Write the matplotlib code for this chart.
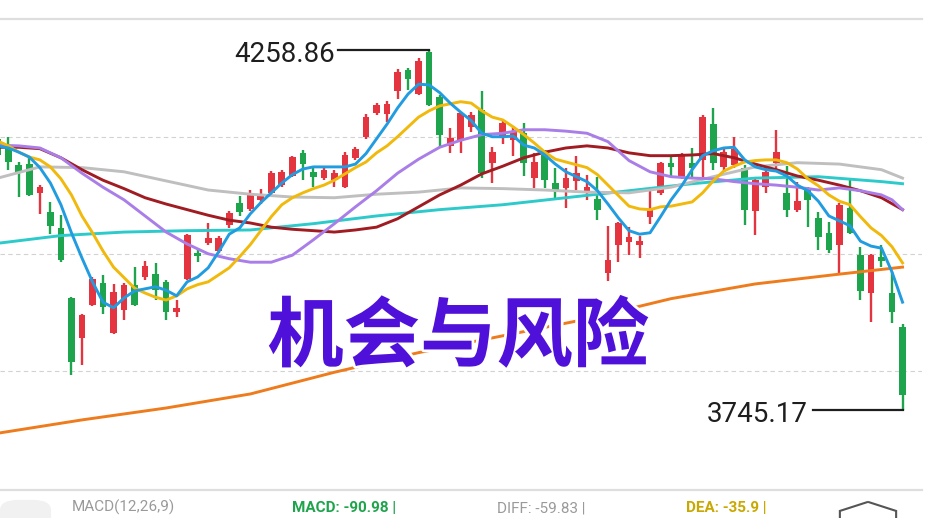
import matplotlib
matplotlib.use('Agg')
import matplotlib.pyplot as plt
import matplotlib.patheffects as pe
from matplotlib.patches import FancyBboxPatch, RegularPolygon
import numpy as np

# daily candles (red = up, green = down)
opens = [4132, 4120, 4095, 4096, 4055, 4028, 4005, 3905, 3848, 3895,
         3926, 3855, 3888, 3924, 3935, 3939, 3928, 3885, 3932, 3969,
         3983, 3972, 4009, 4041, 4032, 4045, 4055, 4066, 4079, 4112,
         4085, 4076, 4073, 4063, 4105, 4135, 4169, 4168, 4200, 4230,
         4196, 4256, 4192, 4122, 4129, 4149, 4173, 4098, 4133, 4130,
         4140, 4076, 4109, 4069, 4062, 4072, 4058, 4046, 3941, 3981,
         3985, 3981, 4021, 4055, 4098, 4078, 4098, 4102, 4153, 4092,
         4095, 4091, 4029, 4063, 4098, 4055, 4031, 4059, 4019, 3998,
         3981, 4033, 3966, 3912, 3964, 3912, 3864]
highs = [4139, 4135, 4099, 4108, 4066, 4042, 4023, 3906, 3882, 3935,
         3938, 3925, 3926, 3949, 3958, 3955, 3931, 3902, 3996, 3976,
         4012, 3994, 4029, 4051, 4059, 4061, 4086, 4088, 4108, 4116,
         4092, 4091, 4088, 4113, 4120, 4168, 4183, 4186, 4232, 4233,
         4247, 4258.86, 4195, 4148, 4170, 4170, 4200, 4120, 4158, 4150,
         4155, 4112, 4116, 4091, 4091, 4108, 4081, 4078, 4008, 4013,
         4006, 3994, 4059, 4099, 4106, 4112, 4119, 4166, 4176, 4120,
         4135, 4095, 4076, 4095, 4145, 4093, 4071, 4063, 4028, 4013,
         4041, 4076, 3978, 3968, 3981, 3942, 3868]
lows = [4102, 4088, 4049, 4050, 4025, 3996, 3956, 3795, 3809, 3893,
        3882, 3854, 3874, 3894, 3931, 3902, 3874, 3878, 3931, 3956,
        3981, 3969, 4005, 4022, 4029, 4039, 4052, 4063, 4078, 4073,
        4063, 4073, 4063, 4062, 4102, 4132, 4166, 4156, 4189, 4202,
        4195, 4179, 4119, 4112, 4112, 4142, 4076, 4069, 4125, 4108,
        4079, 4062, 4062, 4048, 4033, 4059, 4045, 4016, 3929, 3956,
        3966, 3962, 4011, 4052, 4078, 4075, 4078, 4078, 4088, 4085,
        4091, 4009, 3995, 4055, 4088, 4021, 4028, 4006, 3974, 3969,
        3941, 3996, 3902, 3871, 3949, 3869, 3745.17]
closes = [4109, 4099, 4085, 4052, 4063, 4008, 3959, 3814, 3881, 3932,
          3892, 3914, 3924, 3895, 3951, 3916, 3885, 3891, 3995, 3965,
          3991, 3991, 4026, 4028, 4055, 4053, 4083, 4085, 4106, 4096,
          4078, 4088, 4083, 4109, 4118, 4163, 4180, 4182, 4227, 4217,
          4243, 4180, 4138, 4133, 4169, 4166, 4083, 4113, 4155, 4143,
          4098, 4099, 4073, 4059, 4076, 4083, 4063, 4031, 3959, 4012,
          3992, 3986, 4031, 4098, 4092, 4109, 4091, 4163, 4098, 4113,
          4118, 4031, 4073, 4085, 4113, 4031, 4043, 4045, 3992, 3974,
          4038, 3998, 3915, 3966, 3958, 3885, 3767]

# moving averages (values read at candle positions)
ma5 = [4122, 4119, 4113, 4106, 4091, 4069, 4038, 3998, 3962, 3928,
       3899, 3891, 3905, 3915, 3918, 3921, 3916, 3908, 3928, 3935,
       3948, 3971, 3996, 4005, 4025, 4041, 4055, 4069, 4081, 4089,
       4092, 4092, 4092, 4092, 4096, 4111, 4132, 4153, 4176, 4196,
       4210, 4209, 4198, 4183, 4170, 4158, 4140, 4135, 4135, 4136,
       4123, 4119, 4109, 4096, 4085, 4078, 4071, 4058, 4039, 4019,
       4001, 3996, 3998, 4021, 4045, 4065, 4088, 4108, 4115, 4119,
       4120, 4102, 4092, 4088, 4086, 4079, 4066, 4058, 4043, 4022,
       4015, 4008, 3986, 3979, 3976, 3942, 3899]
ma10 = [4129, 4122, 4113, 4106, 4102, 4092, 4075, 4052, 4022, 3998,
        3972, 3949, 3934, 3919, 3912, 3906, 3902, 3908, 3918, 3924,
        3928, 3938, 3948, 3964, 3981, 4001, 4021, 4038, 4048, 4055,
        4061, 4066, 4073, 4082, 4091, 4099, 4112, 4122, 4135, 4149,
        4163, 4172, 4179, 4182, 4185, 4183, 4172, 4163, 4159, 4149,
        4138, 4126, 4113, 4103, 4099, 4095, 4091, 4081, 4066, 4051,
        4036, 4032, 4031, 4035, 4036, 4039, 4042, 4055, 4072, 4086,
        4093, 4099, 4101, 4102, 4102, 4098, 4089, 4075, 4065, 4052,
        4043, 4038, 4021, 4005, 3994, 3978, 3955]
ma20_idx = list(range(0, 85, 2)) + [85, 86]
ma20 = [4123, 4122, 4119, 4105, 4083, 4063, 4045, 4022, 3999, 3982,
        3968, 3961, 3956, 3956, 3966, 3988, 4011, 4035, 4058, 4083,
        4103, 4120, 4130, 4138, 4140, 4145, 4145, 4143, 4140, 4128,
        4101, 4085, 4078, 4076, 4075, 4071, 4068, 4066, 4063, 4059,
        4062, 4058, 4052, 4045, 4031]
ma30_idx = list(range(0, 87, 2))
ma30 = [4120, 4120, 4118, 4105, 4088, 4073, 4061, 4048, 4039, 4031,
        4023, 4016, 4012, 4006, 4003, 4001, 3999, 4002, 4006, 4018,
        4035, 4052, 4066, 4082, 4093, 4105, 4113, 4119, 4122, 4119,
        4112, 4108, 4108, 4109, 4111, 4105, 4096, 4088, 4079, 4073,
        4066, 4058, 4048, 4031]
ma60_idx = list(range(0, 85, 4)) + [86]
ma60 = [4076, 4092, 4091, 4085, 4072, 4059, 4053, 4049, 4048, 4053, 4056, 4062,
        4061, 4059, 4056, 4055, 4063, 4078, 4092, 4098, 4096, 4088, 4076]
ma120_idx = list(range(0, 85, 6)) + [86]
ma120 = [3983, 3994, 3999, 4001, 4002, 4011, 4022, 4031, 4038, 4048, 4058,
         4068, 4076, 4078, 4071, 4068]
ma250_idx = [0, 8, 16, 24, 32, 40, 48, 56, 64, 72, 80, 86]
ma250 = [3712, 3731, 3748, 3768, 3799, 3827, 3851, 3875, 3904, 3925, 3939, 3949]

grid_levels = [4135, 3968, 3801]
title = '机会与风险'
macd_parts = [('MACD(12,26,9)', '#9a9a9a'), ('MACD: -90.98 |', '#1ea44c'),
              ('DIFF: -59.83 |', '#9a9a9a'), ('DEA: -35.9 |', '#c9a800')]

RED = '#e3343f'
GREEN = '#1ea44c'


def draw_candles(ax):
    o = np.array(opens, dtype=float)
    c = np.array(closes, dtype=float)
    x = np.arange(len(o))
    colors = [RED if cc >= oo else GREEN for oo, cc in zip(o, c)]
    ax.vlines(x, lows, highs, colors=colors, lw=1.7, zorder=2)
    bottom = np.minimum(o, c)
    height = np.maximum(np.abs(c - o), 1.0)
    ax.bar(x, height, bottom=bottom, width=0.64, color=colors, zorder=3)


def draw_mas(ax):
    n = len(ma5)
    lw = 2.1
    ax.plot(ma250_idx, ma250, color='#ee7b1c', lw=lw, zorder=4)
    ax.plot(ma120_idx, ma120, color='#2ccaca', lw=lw, zorder=4)
    ax.plot(ma60_idx, ma60, color='#bfbfbf', lw=lw, zorder=4)
    ax.plot(ma30_idx, ma30, color='#a01c22', lw=lw, zorder=4)
    ax.plot(ma20_idx, ma20, color='#a97ee8', lw=lw, zorder=4)
    ax.plot(range(n), ma10, color='#f0b90b', lw=lw, zorder=4)
    ax.plot(range(n), ma5, color='#219ce0', lw=lw, zorder=5)


def draw_extremes(ax):
    hi_i = int(np.argmax(highs))
    lo_i = int(np.argmin(lows))
    hi, lo = highs[hi_i], lows[lo_i]
    kw = dict(family='Roboto', fontsize=20, color='#1e1e1e', va='center', ha='right', zorder=6)
    ax.plot([hi_i - 8.65, hi_i], [hi, hi], color='#1e1e1e', lw=1.6, zorder=6)
    ax.text(hi_i - 8.95, hi - 7, f'{hi:.2f}', **kw)
    ax.plot([lo_i - 8.5, lo_i], [lo, lo], color='#1e1e1e', lw=1.6, zorder=6)
    ax.text(lo_i - 9.0, lo - 7, f'{lo:.2f}', **kw)


def main():
    fig = plt.figure(figsize=(9.28, 5.18), dpi=100)
    ax = fig.add_axes([0, 28 / 518, 922 / 928, 471 / 518])
    ax.set_xlim(0.21, 87.85)
    ax.set_ylim(3631, 4303)

    for lvl in grid_levels:
        ax.axhline(lvl, color='#d2d2d2', lw=0.8, ls=(0, (4, 3)), zorder=1)

    draw_candles(ax)
    draw_mas(ax)
    draw_extremes(ax)

    ax.text(0.497, 0.323, title, transform=ax.transAxes, ha='center', va='center',
            family=['Noto Sans CJK SC'], fontweight='heavy', fontsize=55, color='#4f10d9',
            zorder=7, path_effects=[pe.withStroke(linewidth=4, foreground='white')])

    ax.set_xticks([])
    ax.set_yticks([])
    for side in ['left', 'right']:
        ax.spines[side].set_visible(False)
    for side in ['top', 'bottom']:
        ax.spines[side].set_color('#dedede')
        ax.spines[side].set_linewidth(1.6)

    # MACD header strip at the bottom (cropped in the source screenshot)
    fig.patches.append(FancyBboxPatch((0.0, -0.02), 0.055, 0.055, boxstyle='round,pad=0,rounding_size=0.02',
                                      transform=fig.transFigure, fc='#f1f1f1', ec='none'))
    xs = [72, 292, 497, 686]
    for (txt, col), xp in zip(macd_parts, xs):
        fig.text(xp / 928, 3 / 518, txt, color=col, fontsize=11, va='bottom', ha='left',
                 family='Roboto', fontweight='bold' if col != '#9a9a9a' else 'normal')
    fig.patches.append(RegularPolygon((868 / 928, -2 / 518), 6, radius=0.035, orientation=0,
                                      transform=fig.transFigure, fc='none', ec='#555555', lw=1.5))

    fig.savefig('out.png', dpi=100, facecolor='white')


if __name__ == '__main__':
    main()
